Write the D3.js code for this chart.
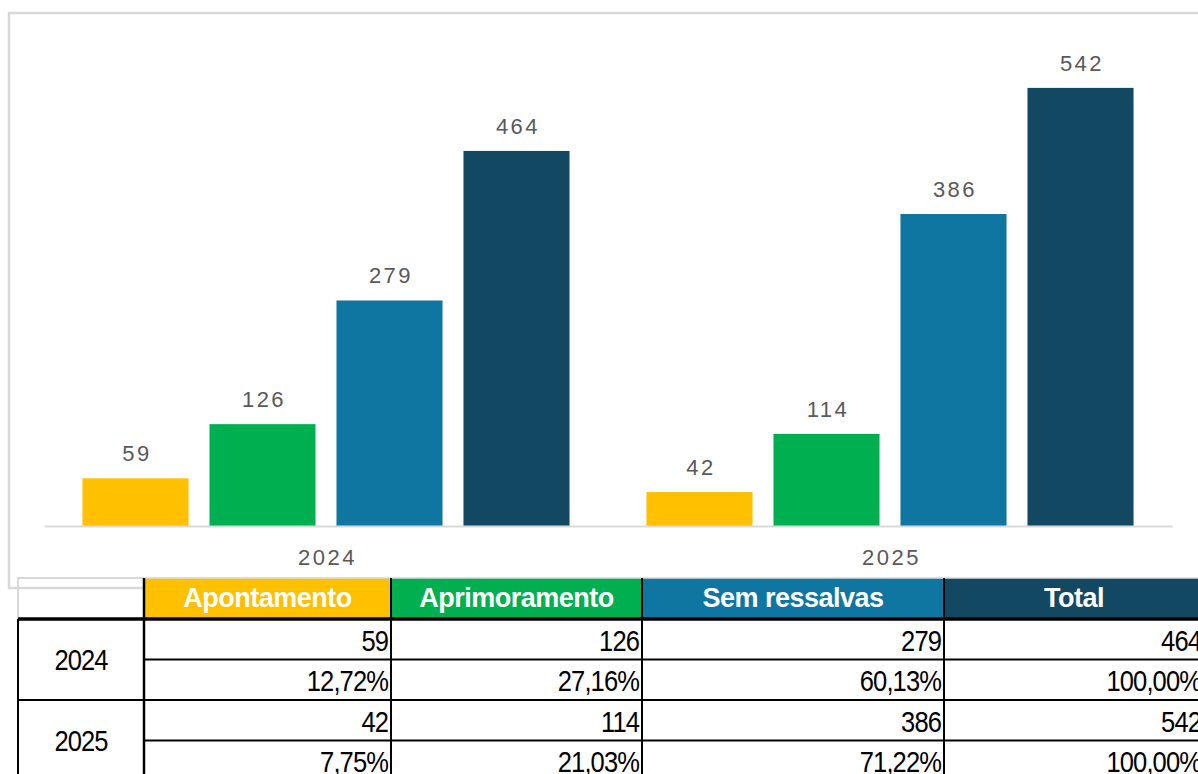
<!DOCTYPE html>
<meta charset="utf-8">
<style>
    body {
        margin: 0;
        background: #fff;
    }

    .val {
        font: 22px "Liberation Sans", Arial, sans-serif;
        letter-spacing: 2.5px;
        fill: #595959;
    }

    .cell {
        font-family: "Liberation Sans", Arial, sans-serif;
        font-size: 29px;
        letter-spacing: -1px;
        fill: #000;
    }

    .head {
        font-family: "Liberation Sans", Arial, sans-serif;
        font-size: 27px;
        font-weight: bold;
        letter-spacing: -0.5px;
        fill: #fff;
    }
</style>

<body>
    <script src="https://d3js.org/d3.v7.min.js"></script>
    <script>

        var years = ["2024", "2025"];
        var series = ["Apontamento", "Aprimoramento", "Sem ressalvas", "Total"];
        var apontamento = [59, 42];
        var aprimoramento = [126, 114];
        var semRessalvas = [279, 386];
        var total = [464, 542];
        var colors = ["#FFC000", "#00B050", "#0E76A0", "#134862"];

        var seriesValues = [apontamento, aprimoramento, semRessalvas, total];

        var width = 1198, height = 774;

        var svg = d3.select("body").append("svg")
            .attr("width", width)
            .attr("height", height);

        // chart frame
        svg.append("rect")
            .attr("x", 9)
            .attr("y", 13)
            .attr("width", 1220)
            .attr("height", 575)
            .attr("fill", "none")
            .attr("stroke", "#d9d9d9")
            .attr("stroke-width", 2.5);

        var x0 = d3.scaleBand().domain(years).range([44, 1172]);
        var x1 = d3.scaleBand().domain(series)
            .range([0, x0.bandwidth()])
            .paddingInner(0.165)
            .paddingOuter(0.303);
        var y = d3.scaleLinear().domain([0, 600]).range([526, 41]);
        var color = d3.scaleOrdinal().domain(series).range(colors);

        var rows = [];
        years.forEach(function (yr, i) {
            series.forEach(function (s, j) {
                rows.push({ year: yr, series: s, value: seriesValues[j][i] });
            });
        });

        var g = svg.append("g");

        g.selectAll(".bar")
            .data(rows)
            .enter().append("rect")
            .attr("class", "bar")
            .attr("x", function (d) { return x0(d.year) + x1(d.series); })
            .attr("y", function (d) { return y(d.value); })
            .attr("width", x1.bandwidth())
            .attr("height", function (d) { return y(0) - y(d.value); })
            .attr("fill", function (d) { return color(d.series); });

        g.selectAll(".val")
            .data(rows)
            .enter().append("text")
            .attr("class", "val")
            .attr("x", function (d) { return x0(d.year) + x1(d.series) + x1.bandwidth() / 2 + 1.5; })
            .attr("y", function (d) { return y(d.value) - 17; })
            .attr("text-anchor", "middle")
            .text(function (d) { return d.value; });

        var xAxis = g.append("g")
            .attr("transform", "translate(0," + y(0) + ")")
            .call(d3.axisBottom(x0).tickSize(0).tickPadding(23));
        xAxis.select(".domain").attr("stroke", "#d9d9d9").attr("stroke-width", 2);
        xAxis.selectAll("text")
            .attr("class", "val")
            .attr("font-size", null)
            .attr("font-family", null)
            .attr("fill", null)
            .attr("dx", "1.5");

        // table under the chart
        var colX = [18, 144, 391, 642, 944, 1204];
        var headTop = 578, headBottom = 619, rowH = 40.5;
        var t = svg.append("g");

        function pct(v, tot) {
            return (v / tot * 100).toFixed(2).replace(".", ",") + "%";
        }

        // narrow look: squeeze cell text horizontally
        function cellText(px, py, anchor, txt) {
            t.append("text")
                .attr("class", "cell")
                .attr("transform", "translate(" + px + "," + py + ") scale(0.88,1)")
                .attr("text-anchor", anchor)
                .text(txt);
        }

        // header
        series.forEach(function (s, j) {
            t.append("rect")
                .attr("x", colX[j + 1])
                .attr("y", headTop)
                .attr("width", colX[j + 2] - colX[j + 1])
                .attr("height", headBottom - headTop)
                .attr("fill", color(s));
            t.append("text")
                .attr("class", "head")
                .attr("x", (colX[j + 1] + colX[j + 2]) / 2)
                .attr("y", headTop + 29)
                .attr("text-anchor", "middle")
                .text(s);
        });
        t.append("line")
            .attr("x1", colX[1] + 1).attr("x2", width)
            .attr("y1", headTop).attr("y2", headTop)
            .attr("stroke", "#d9d9d9").attr("stroke-width", 1.5);
        t.append("path")
            .attr("d", "M" + colX[0] + "," + (headBottom + 2) + "V" + headTop + "H" + colX[1])
            .attr("fill", "none")
            .attr("stroke", "#d9d9d9")
            .attr("stroke-width", 2);

        // body rows
        years.forEach(function (yr, i) {
            var top = headBottom + i * rowH * 2;
            cellText((colX[0] + colX[1]) / 2, top + rowH + 10, "middle", yr);
            seriesValues.forEach(function (vals, j) {
                cellText(colX[j + 2] - 3, top + rowH - 9, "end", vals[i]);
                cellText(colX[j + 2] - 3, top + 2 * rowH - 9, "end", pct(vals[i], total[i]));
            });
            // grid lines
            t.append("line")
                .attr("x1", colX[1]).attr("x2", width)
                .attr("y1", top + rowH).attr("y2", top + rowH)
                .attr("stroke", "#000").attr("stroke-width", 2);
            t.append("line")
                .attr("x1", colX[0]).attr("x2", width)
                .attr("y1", top + 2 * rowH).attr("y2", top + 2 * rowH)
                .attr("stroke", "#000").attr("stroke-width", 2);
        });

        colX.slice(0, 5).forEach(function (cx, k) {
            t.append("line")
                .attr("x1", cx).attr("x2", cx)
                .attr("y1", k === 0 ? headBottom : headTop)
                .attr("y2", height)
                .attr("stroke", "#000")
                .attr("stroke-width", k === 1 ? 2.5 : 2);
        });

        t.append("line")
            .attr("x1", colX[0]).attr("x2", width)
            .attr("y1", headBottom).attr("y2", headBottom)
            .attr("stroke", "#000").attr("stroke-width", 3.5);

    </script>
